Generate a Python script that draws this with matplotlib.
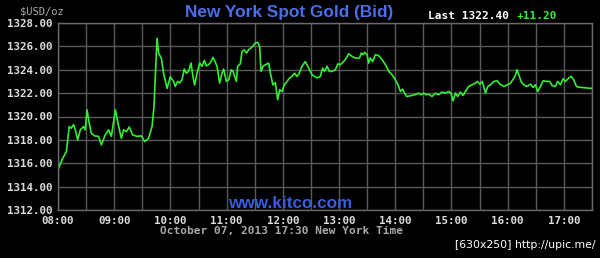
import matplotlib
matplotlib.use("Agg")
import matplotlib.pyplot as plt
import numpy as np

# minutes after 08:00 and spot bid price
minutes = [0, 4.3, 8.9, 12, 14, 16.7, 19, 21, 23.8, 27.3, 29, 31, 32.7, 35.5, 39, 43.3,
           46.2, 50.5, 54, 57, 61.2, 64, 67.6, 70, 73, 76, 79.7, 84.3, 88.9, 92.5, 96.7,
           100.4, 102.5, 103.9, 105.7, 107.4, 110.3, 112.7, 116.4, 119.9, 123.4, 125.2,
           127.7, 129.8, 132.4, 134.8, 137, 139.4, 142, 143.7, 145.8, 148.4, 151.2, 153.8,
           156.2, 158.3, 160.8, 163.3, 165.5, 168, 169.8, 172.5, 175.1, 176.8, 179.7,
           182.2, 185, 186.8, 188.5, 190.4, 191.8, 194.6, 196.4, 198.9, 201, 203.5, 207.1,
           210.6, 213.1, 215.2, 216.7, 218.9, 221.3, 224.9, 226.7, 229.5, 232, 234.5,
           236.6, 239.1, 241.6, 244.5, 247.3, 249.7, 252.4, 255.1, 257.6, 260.5, 264,
           267.6, 271.2, 276.5, 280, 282.5, 284.6, 287.2, 289.6, 292.5, 296, 298.9, 301.4,
           304.9, 307.8, 310.3, 313.9, 317.4, 321.7, 323.8, 325.6, 327.3, 329.9, 331.6,
           333.4, 335.9, 338.8, 342.3, 346, 349.5, 353, 356.6, 360.1, 363, 365.5, 367.9,
           369.9, 372.1, 377.5, 381, 384.9, 387.5, 390.3, 393.2, 395.7, 399.3, 402.8,
           406.3, 410, 413.5, 417, 419.5, 421.7, 424.2, 426.6, 429.5, 432.4, 434.8, 438.4,
           442, 445.6, 448, 450.2, 452.8, 454.4, 456.3, 458.8, 461.6, 465.2, 468.8, 471.7,
           476, 479.6, 483.1, 486.7, 488.5, 490, 491.8, 494.3, 497.1, 500.7, 504.3, 507.1,
           509.6, 512.1, 515, 517.8, 521.4, 524.9, 527.4, 530.9, 533.4, 536.3, 539.1,
           541.6, 545.2, 547.8, 550.5, 553.4, 555.8, 570]
price = [1315.43, 1316.3, 1317.0, 1319.14, 1319.0, 1319.3, 1318.7, 1318.0, 1318.86, 1319.14,
         1318.86, 1320.57, 1319.7, 1318.57, 1318.34, 1318.3, 1317.57, 1318.43, 1318.86,
         1318.3, 1320.57, 1319.43, 1318.14, 1318.86, 1318.7, 1319.1, 1318.43, 1318.3,
         1318.34, 1317.86, 1318.14, 1319.14, 1320.86, 1323.4, 1326.7, 1325.4, 1325.0,
         1323.7, 1322.4, 1323.4, 1323.0, 1322.57, 1323.0, 1322.86, 1323.14, 1324.06,
         1323.7, 1323.86, 1324.57, 1323.57, 1322.7, 1323.7, 1324.57, 1324.3, 1324.8,
         1324.34, 1324.43, 1324.7, 1325.06, 1324.63, 1324.3, 1322.86, 1323.7, 1324.06,
         1323.0, 1323.14, 1324.0, 1323.86, 1323.43, 1323.0, 1324.3, 1324.5, 1325.57,
         1325.7, 1325.43, 1325.7, 1325.94, 1326.3, 1326.34, 1326.0, 1323.86, 1324.3,
         1324.43, 1324.57, 1323.7, 1322.7, 1322.9, 1321.43, 1322.29, 1322.14, 1322.7,
         1323.0, 1323.3, 1323.43, 1323.7, 1323.43, 1323.7, 1324.3, 1324.7, 1324.14,
         1323.57, 1323.3, 1323.43, 1324.14, 1323.86, 1324.3, 1323.86, 1323.86, 1324.0,
         1324.51, 1324.43, 1324.7, 1325.0, 1325.37, 1325.14, 1325.0, 1325.0, 1325.43,
         1325.29, 1325.48, 1325.29, 1324.57, 1325.0, 1324.7, 1325.29, 1325.2, 1324.86,
         1324.43, 1323.86, 1323.57, 1323.14, 1322.7, 1322.14, 1322.34, 1322.0, 1321.71,
         1321.8, 1321.86, 1322.0, 1321.86, 1322.0, 1321.86, 1321.91, 1321.71, 1322.0,
         1321.86, 1322.09, 1322.0, 1322.14, 1322.0, 1321.34, 1322.0, 1321.71, 1322.09,
         1321.8, 1322.14, 1322.57, 1322.71, 1322.86, 1323.0, 1322.77, 1323.0, 1322.57,
         1322.0, 1322.57, 1322.71, 1323.0, 1323.06, 1322.77, 1322.57, 1322.71, 1322.86,
         1323.29, 1323.57, 1324.0, 1323.57, 1323.0, 1322.71, 1322.57, 1322.77, 1322.49,
         1322.71, 1322.14, 1322.57, 1323.06, 1323.0, 1323.0, 1322.66, 1322.57, 1323.0,
         1322.71, 1323.23, 1323.0, 1323.29, 1323.43, 1323.14, 1322.57, 1322.51, 1322.4]

y_ticks = [1312, 1314, 1316, 1318, 1320, 1322, 1324, 1326, 1328]
hour_labels = ["08:00", "09:00", "10:00", "11:00", "12:00", "13:00", "14:00", "15:00", "16:00", "17:00"]

W, H = 600, 258
fig = plt.figure(figsize=(W / 100, H / 100), dpi=100, facecolor="black")
# axes box in pixels: x 58..592, y 23..210 (from top)
ax = fig.add_axes([58 / W, (H - 210) / H, (592 - 58) / W, (210 - 23) / H], facecolor="black")

ax.plot(minutes, price, color="#33ee33", lw=1.2)

ax.set_xlim(0, 570)
ax.set_ylim(1312, 1328)
ax.set_yticks(y_ticks)
ax.set_yticklabels(["%.2f" % v for v in y_ticks])
ax.set_xticks(np.arange(0, 571, 30))
ax.set_xticklabels([hour_labels[i // 2] if i % 2 == 0 else "" for i in range(20)])
ax.grid(True, color="#5a5a5a", lw=1.0)
ax.tick_params(length=0, pad=4, colors="#dddddd")
for lab in ax.get_xticklabels() + ax.get_yticklabels():
    lab.set_family("DejaVu Sans Mono")
    lab.set_fontsize(7.8)
    lab.set_fontweight("bold")
for sp in ax.spines.values():
    sp.set_color("#6a6a6a")
    sp.set_linewidth(1.0)

mono = "DejaVu Sans Mono"
fig.text(42 / W, 1 - 11 / H, "$USD/oz", color="#aaaaaa", family=mono, fontsize=7.5,
         ha="center", va="center")
fig.text(289 / W, 1 - 12 / H, "New York Spot Gold (Bid)", color="#4d6ee8",
         family="Liberation Sans", fontweight="bold", fontsize=12.4, ha="center", va="center")
fig.text(469 / W, 1 - 16 / H, "Last 1322.40", color="white", family=mono, fontsize=8,
         fontweight="bold", ha="center", va="center")
fig.text(537 / W, 1 - 16 / H, "+11.20", color="#33ee33", family=mono, fontsize=8,
         fontweight="bold", ha="center", va="center")
fig.text(290 / W, 1 - 203 / H, "www.kitco.com", color="#3a5ce0", family="Liberation Sans",
         fontweight="bold", fontsize=12.3, ha="center", va="center")
fig.text(281 / W, 1 - 231 / H, "October 07, 2013 17:30 New York Time", color="#aaaaaa",
         family=mono, fontsize=8, fontweight="bold", ha="center", va="center")
fig.text(525 / W, 1 - 245 / H, "[630x250] http://upic.me/", color="white",
         family="DejaVu Sans", fontsize=7.8, ha="center", va="center")

fig.savefig("out.png", dpi=100, facecolor="black")
